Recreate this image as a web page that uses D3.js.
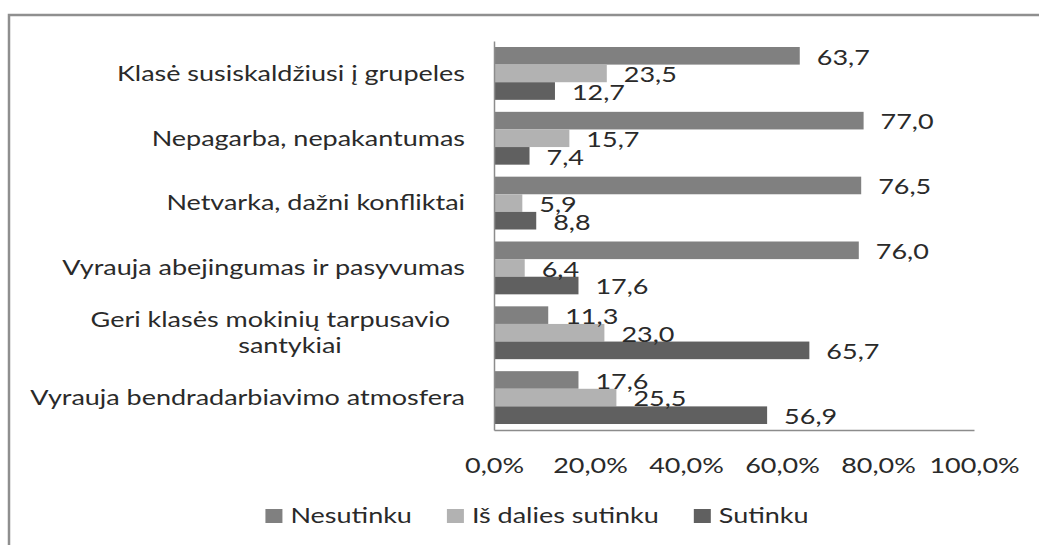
<!DOCTYPE html>
<html>
<head>
<meta charset="utf-8">
<script src="https://cdn.jsdelivr.net/npm/d3@7"></script>
<style>
  body { margin: 0; background: #fff; }
  svg { display: block; }
  text { font-family: Lato, "Open Sans", sans-serif; fill: #2a2a2a; }
</style>
</head>
<body>
<div id="chart"></div>
<script>
// Chart data
const categories = [
    'Klasė susiskaldžiusi į grupeles',
    'Nepagarba, nepakantumas',
    'Netvarka, dažni konfliktai',
    'Vyrauja abejingumas ir pasyvumas',
    'Geri klasės mokinių tarpusavio\nsantykiai',
    'Vyrauja bendradarbiavimo atmosfera'
];
const seriesNames = ['Nesutinku', 'Iš dalies sutinku', 'Sutinku'];
const nesutinku = [63.7, 77.0, 76.5, 76.0, 11.3, 17.6];
const isDaliesSutinku = [23.5, 15.7, 5.9, 6.4, 23.0, 25.5];
const sutinku = [12.7, 7.4, 8.8, 17.6, 65.7, 56.9];
const xTicks = [0, 20, 40, 60, 80, 100];

const seriesValues = [nesutinku, isDaliesSutinku, sutinku];
const colors = ['#808080', '#b2b2b2', '#606060'];

function renderChart() {
    const W = 1039, H = 545;
    const fontSize = 21;
    const axisColor = '#8c8c8c';
    const textColor = '#2a2a2a';

    const svg = d3.select('#chart').append('svg')
        .attr('width', W)
        .attr('height', H);

    // outer frame (runs off the right and bottom edges)
    svg.append('rect')
        .attr('x', 9).attr('y', 15)
        .attr('width', W + 20).attr('height', H + 20)
        .attr('fill', 'none')
        .attr('stroke', '#8f8f8f')
        .attr('stroke-width', 2.5);

    // the source picture is stretched horizontally; measure text to match it
    const probe = svg.append('text').style('font-size', fontSize + 'px')
        .text('Vyrauja bendradarbiavimo atmosfera');
    const sx = 435 / probe.node().getComputedTextLength();
    probe.remove();

    const x = d3.scaleLinear().domain([0, 100]).range([494, 974]);
    const y = d3.scaleBand().domain(categories).range([41, 430])
        .paddingInner(0.185).paddingOuter(0.0925);
    const ySub = d3.scaleBand().domain(seriesNames).range([0, y.bandwidth()]);

    const rows = categories.map((c, i) => ({
        category: c,
        values: seriesNames.map((s, j) => ({ series: s, value: seriesValues[j][i], color: colors[j] }))
    }));

    // bars
    const groups = svg.selectAll('.group')
        .data(rows)
        .enter().append('g')
        .attr('transform', d => `translate(0,${y(d.category)})`);

    groups.selectAll('rect')
        .data(d => d.values)
        .enter().append('rect')
        .attr('x', x(0))
        .attr('y', d => ySub(d.series))
        .attr('width', d => x(d.value) - x(0))
        .attr('height', ySub.bandwidth())
        .attr('fill', d => d.color);

    // value labels
    groups.selectAll('.val')
        .data(d => d.values)
        .enter().append('text')
        .attr('transform', d => `translate(${x(d.value) + 17},${ySub(d.series) + ySub.bandwidth() / 2 + 1.5}) scale(${sx},1)`)
        .attr('dy', '0.35em')
        .style('font-size', fontSize + 'px')
        .text(d => d.value.toFixed(1).replace('.', ','));

    // axes
    const yAxis = svg.append('g')
        .attr('transform', `translate(${x(0)},0)`)
        .call(d3.axisLeft(y).tickSize(0).tickSizeOuter(0).tickFormat(''));
    yAxis.select('.domain').attr('stroke', axisColor).attr('stroke-width', 1.5);

    const xAxis = svg.append('g')
        .attr('transform', `translate(0,430)`)
        .call(d3.axisBottom(x).tickValues(xTicks).tickSize(0).tickSizeOuter(0)
            .tickFormat(d => d.toFixed(1).replace('.', ',') + '%'));
    xAxis.select('.domain').attr('stroke', axisColor).attr('stroke-width', 1.5);
    xAxis.selectAll('text')
        .attr('y', 0).attr('dy', '0.35em')
        .attr('transform', `translate(0,36) scale(${sx},1)`)
        .attr('fill', textColor)
        .style('font-size', fontSize + 'px')
        .style('font-family', 'Lato, sans-serif');

    // category labels
    const labelRight = 465;
    categories.forEach(c => {
        const lines = c.split('\n');
        const cy = y(c) + y.bandwidth() / 2;
        if (lines.length === 1) {
            svg.append('text')
                .attr('transform', `translate(${labelRight},${cy}) scale(${sx},1)`)
                .attr('dy', '0.35em')
                .attr('text-anchor', 'end')
                .style('font-size', fontSize + 'px')
                .text(c);
        } else {
            svg.append('text')
                .attr('transform', `translate(${labelRight - 15},${cy - 13}) scale(${sx},1)`)
                .attr('dy', '0.35em')
                .attr('text-anchor', 'end')
                .style('font-size', fontSize + 'px')
                .text(lines[0]);
            svg.append('text')
                .attr('transform', `translate(290,${cy + 13}) scale(${sx},1)`)
                .attr('dy', '0.35em')
                .attr('text-anchor', 'middle')
                .style('font-size', fontSize + 'px')
                .text(lines[1]);
        }
    });

    // legend
    const legendY = 516;
    const sqW = 17, sqH = 14, gapText = 8, gapItem = 35;
    const legend = svg.append('g');
    let cursor = 0;
    seriesNames.forEach((s, i) => {
        const item = legend.append('g').attr('transform', `translate(${cursor},0)`);
        item.append('rect')
            .attr('x', 0).attr('y', legendY - sqH / 2)
            .attr('width', sqW).attr('height', sqH)
            .attr('fill', colors[i]);
        const t = item.append('text')
            .attr('transform', `translate(${sqW + gapText},${legendY}) scale(${sx},1)`)
            .attr('dy', '0.35em')
            .style('font-size', fontSize + 'px')
            .text(s);
        cursor += sqW + gapText + t.node().getComputedTextLength() * sx + gapItem;
    });
    const total = cursor - gapItem;
    legend.attr('transform', `translate(${537 - total / 2},0)`);
}

renderChart();
</script>
</body>
</html>
